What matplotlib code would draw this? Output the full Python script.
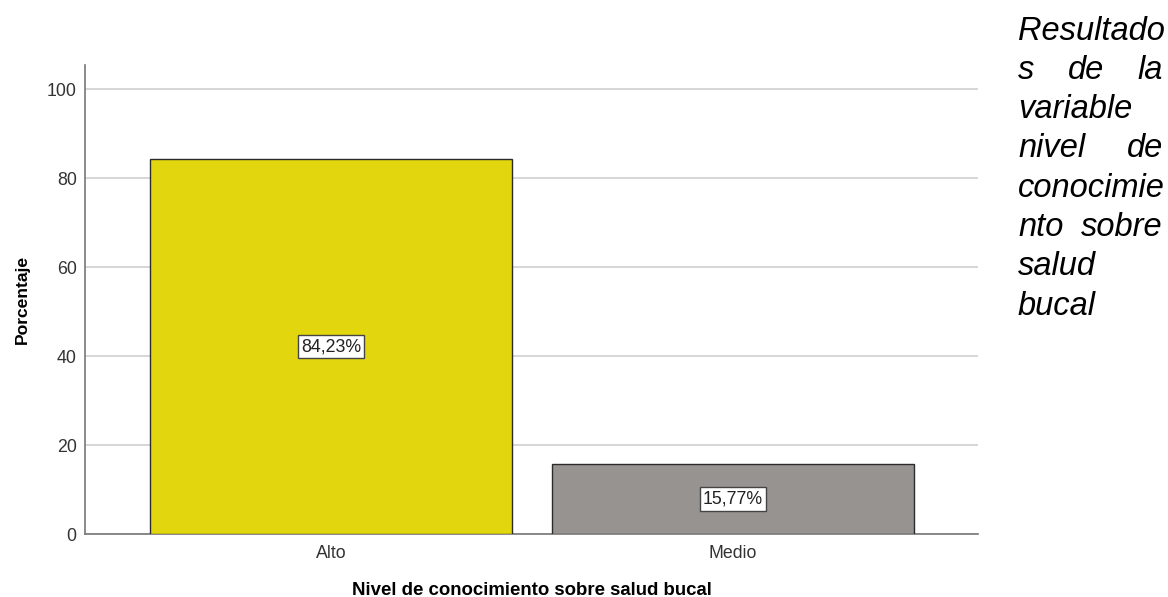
import matplotlib
matplotlib.use("Agg")
import matplotlib.pyplot as plt

plt.rcParams['font.family'] = ['Liberation Sans', 'DejaVu Sans']

categories = ["Alto", "Medio"]
percentages = [84.23, 15.77]
value_labels = ["84,23%", "15,77%"]
bar_colors = ["#E2D70E", "#979391"]
y_ticks = [0, 20, 40, 60, 80, 100]
caption_lines = ["Resultado", "s de la", "variable", "nivel de",
                 "conocimie", "nto sobre", "salud", "bucal"]

fig = plt.figure(figsize=(11.68, 5.97), dpi=100)
ax = fig.add_axes([0.0728, 0.1055, 0.7645, 0.7855])

x = list(range(len(categories)))
ax.bar(x, percentages, width=0.9, color=bar_colors, edgecolor="#2b2b2b",
       linewidth=1.0, zorder=3)

for xi, val, lab in zip(x, percentages, value_labels):
    ax.text(xi, val / 2, lab, ha="center", va="center", fontsize=12.8,
            color="#222222", zorder=4,
            bbox=dict(boxstyle="square,pad=0.18", facecolor="white",
                      edgecolor="#444444", linewidth=1.0))

ax.set_xlim(-0.612, 1.61)
ax.set_ylim(0, 105.4)
ax.set_yticks(y_ticks)
ax.set_xticks(x)
ax.set_xticklabels(categories)
ax.tick_params(axis="both", length=0, labelsize=12.8, labelcolor="#333333")
ax.tick_params(axis="y", pad=6)
ax.tick_params(axis="x", pad=8)
ax.yaxis.grid(True, color="#cfcfcf", linewidth=1.2, zorder=0)
ax.set_axisbelow(True)

for side in ("top", "right"):
    ax.spines[side].set_visible(False)
for side in ("left", "bottom"):
    ax.spines[side].set_color("#777777")
    ax.spines[side].set_linewidth(1.2)

ax.set_ylabel("Porcentaje", fontsize=12.6, fontweight="bold", labelpad=12)
ax.set_xlabel("Nivel de conocimiento sobre salud bucal", fontsize=13.4,
              fontweight="bold", labelpad=14)

# Justified italic caption on the right
fig.canvas.draw()
renderer = fig.canvas.get_renderer()
left_px, right_px = 1018, 1163
top_px = 31
line_step = 39.3
H = fig.get_figheight() * fig.dpi
W = fig.get_figwidth() * fig.dpi
cap_kw = dict(fontsize=23.5, fontstyle="italic", color="black", va="center")

for i, line in enumerate(caption_lines):
    yc = 1 - (top_px + i * line_step) / H
    words = line.split()
    if len(words) == 1:
        fig.text(left_px / W, yc, words[0], ha="left", **cap_kw)
        continue
    widths = []
    for w in words:
        t = fig.text(0, 0, w, **cap_kw)
        widths.append(t.get_window_extent(renderer).width)
        t.remove()
    gap = (right_px - left_px - sum(widths)) / (len(words) - 1)
    pos = left_px
    for w, wd in zip(words, widths):
        fig.text(pos / W, yc, w, ha="left", **cap_kw)
        pos += wd + gap

fig.savefig("out.png", dpi=100)
